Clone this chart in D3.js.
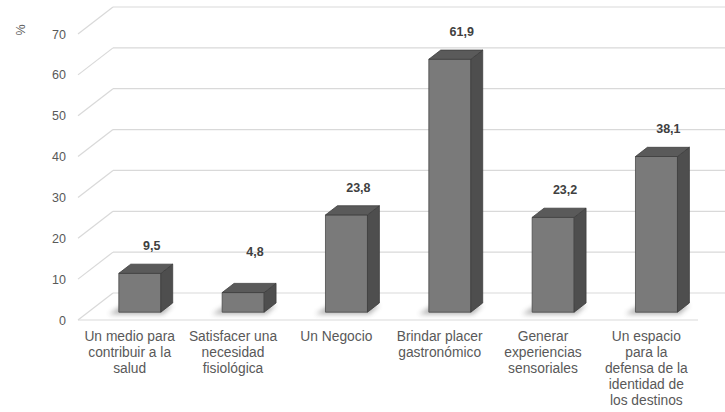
<!DOCTYPE html>
<html>
<head>
<meta charset="utf-8">
<script src="https://cdn.jsdelivr.net/npm/d3@7"></script>
<style>
  body { margin: 0; background: #fff; }
  text { font-family: "Liberation Sans", Arial, sans-serif; }
</style>
</head>
<body>
<div id="container"></div>
<script>
// data
const categories = [
  ["Un medio para", "contribuir a la", "salud"],
  ["Satisfacer una", "necesidad", "fisiológica"],
  ["Un Negocio"],
  ["Brindar placer", "gastronómico"],
  ["Generar", "experiencias", "sensoriales"],
  ["Un espacio", "para la", "defensa de la", "identidad de", "los destinos"]
];
const values = [9.5, 4.8, 23.8, 61.9, 23.2, 38.1];
const labels = ["9,5", "4,8", "23,8", "61,9", "23,2", "38,1"];
const ticks = [0, 10, 20, 30, 40, 50, 60, 70];

const W = 725, H = 412;
const DX = 35, DY = 27;        // depth of the back wall
const z0 = 0.29, z1 = 0.63;    // front and back planes of the bars
const barW = 42;

let svg = d3.select("#container")
  .append("svg")
  .attr("width", W)
  .attr("height", H);

let x = d3.scaleBand().domain(d3.range(categories.length)).range([78, 698]);
let y = d3.scaleLinear().domain([0, 70]).range([320, 34]);

let defs = svg.append("defs");
defs.append("filter").attr("id", "blur")
  .attr("x", "-50%").attr("y", "-50%").attr("width", "200%").attr("height", "200%")
  .append("feGaussianBlur").attr("stdDeviation", 2.5);

// walls / grid
let grid = svg.append("g").attr("class", "grid");
grid.selectAll(".hline").data(ticks).enter()
  .append("line")
  .attr("x1", 78 + DX).attr("x2", W)
  .attr("y1", d => y(d) - DY).attr("y2", d => y(d) - DY)
  .attr("stroke", "#d9d9d9").attr("stroke-width", 1.2);
grid.selectAll(".dline").data(ticks).enter()
  .append("line")
  .attr("x1", 78).attr("x2", 78 + DX)
  .attr("y1", d => y(d)).attr("y2", d => y(d) - DY)
  .attr("stroke", "#d9d9d9").attr("stroke-width", 1.2);
grid.append("line")
  .attr("x1", 78).attr("x2", 698)
  .attr("y1", y(0)).attr("y2", y(0))
  .attr("stroke", "#d9d9d9").attr("stroke-width", 1.2);

// tick labels
svg.selectAll(".tick").data(ticks).enter()
  .append("text")
  .attr("x", 66)
  .attr("y", d => y(d) + 4.5)
  .attr("text-anchor", "end")
  .attr("font-size", 12.5)
  .attr("fill", "#595959")
  .text(d => d);

svg.append("text")
  .attr("transform", "translate(25,30) rotate(-90)")
  .attr("text-anchor", "middle")
  .attr("font-size", 12.5)
  .attr("fill", "#595959")
  .text("%");

// bars
let bars = svg.selectAll(".bar").data(values).enter()
  .append("g").attr("class", "bar");

function fx(i) { return x(i) + x.bandwidth() / 2 - barW / 2 + z0 * DX; }
function pts(a) { return a.map(p => p.join(",")).join(" "); }

// shadow on the floor
bars.append("polygon")
  .attr("points", (d, i) => {
    let l = fx(i), b = y(0) - z0 * DY;
    return pts([[l - 10, b + 2], [l + barW + 2, b + 2], [l + barW + 12, b - 7], [l + 4, b - 7]]);
  })
  .attr("fill", "#555")
  .attr("opacity", 0.45)
  .attr("filter", "url(#blur)");

let ddx = (z1 - z0) * DX, ddy = (z1 - z0) * DY;

// front
bars.append("polygon")
  .attr("points", (d, i) => {
    let l = fx(i), t = y(d) - z0 * DY, b = y(0) - z0 * DY;
    return pts([[l, t], [l + barW, t], [l + barW, b], [l, b]]);
  })
  .attr("fill", "#7a7a7a")
  .attr("stroke", "#4a4a4a").attr("stroke-width", 0.8).attr("stroke-linejoin", "round");
// side
bars.append("polygon")
  .attr("points", (d, i) => {
    let r = fx(i) + barW, t = y(d) - z0 * DY, b = y(0) - z0 * DY;
    return pts([[r, t], [r + ddx, t - ddy], [r + ddx, b - ddy], [r, b]]);
  })
  .attr("fill", "#4e4e4e")
  .attr("stroke", "#3e3e3e").attr("stroke-width", 0.8).attr("stroke-linejoin", "round");
// top
bars.append("polygon")
  .attr("points", (d, i) => {
    let l = fx(i), t = y(d) - z0 * DY;
    return pts([[l, t], [l + barW, t], [l + barW + ddx, t - ddy], [l + ddx, t - ddy]]);
  })
  .attr("fill", "#5a5a5a")
  .attr("stroke", "#3e3e3e").attr("stroke-width", 0.8).attr("stroke-linejoin", "round");

// value labels
bars.append("text")
  .attr("x", (d, i) => fx(i) + barW / 2 + ddx)
  .attr("y", d => Math.min(y(d) - z0 * DY - ddy - 14, y(8) - z0 * DY - ddy - 14))
  .attr("text-anchor", "middle")
  .attr("font-size", 12.5)
  .attr("font-weight", "bold")
  .attr("fill", "#404040")
  .text((d, i) => labels[i]);

// category labels
let cat = svg.selectAll(".cat").data(categories).enter()
  .append("text")
  .attr("class", "cat")
  .attr("text-anchor", "middle")
  .attr("font-size", 13.8)
  .attr("fill", "#595959");
cat.selectAll("tspan").data((d, i) => d.map(s => ({ s: s, i: i }))).enter()
  .append("tspan")
  .attr("x", d => x(d.i) + x.bandwidth() / 2)
  .attr("y", (d, j) => 341 + j * 16)
  .text(d => d.s);
</script>
</body>
</html>
